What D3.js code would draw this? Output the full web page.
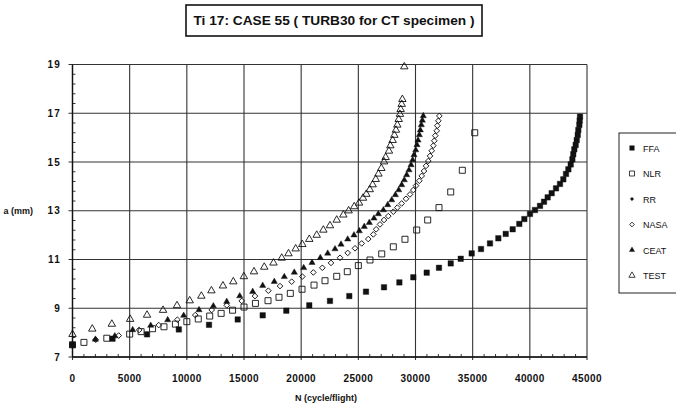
<!DOCTYPE html>
<html><head><meta charset="utf-8">
<script src="https://cdn.jsdelivr.net/npm/d3@7"></script>
<style>body{margin:0;background:#fff}svg{display:block}text{font-family:"Liberation Sans",Arial,sans-serif;fill:#111}</style>
</head><body><svg id="c" width="676" height="403"></svg>
<script>
const title = "Ti 17: CASE 55 ( TURB30 for CT specimen )";
const xTitle = "N (cycle/flight)";
const yTitle = "a (mm)";
const xTicks = [0,5000,10000,15000,20000,25000,30000,35000,40000,45000];
const yTicks = [7,9,11,13,15,17,19];
const seriesNames = ["FFA","NLR","RR","NASA","CEAT","TEST"];

const ffaN = [0,3500,6520,9300,11940,14450,16635,18700,20710,22520,24210,25670,27245,28590,29810,30980,32055,33080,33955,34915,35730,36515,37245,37890,38500,39080,39520,40015,40450,40890,41240,41560,41910,42290,42640,42930,43165,43370,43575,43720,43800,43890,44010,44100,44190,44240,44330,44360,44390];
const ffaA = [7.5,7.75,7.93,8.13,8.32,8.54,8.71,8.90,9.12,9.30,9.50,9.68,9.86,10.06,10.27,10.46,10.66,10.84,11.03,11.25,11.43,11.66,11.87,12.05,12.24,12.46,12.66,12.87,13.03,13.2,13.37,13.55,13.72,13.92,14.1,14.29,14.51,14.70,14.9,15.11,15.32,15.52,15.70,15.9,16.11,16.31,16.52,16.70,16.86];

const nlrN = [0,1000,3000,5000,6000,7000,8000,9000,10000,11000,12000,13000,14000,15000,16000,17100,18060,19050,20075,21125,22085,23110,24035,25000,26020,27045,28060,29080,30105,31065,32055,33080,34095,35180];
const nlrA = [7.5,7.6,7.77,7.94,8.04,8.16,8.24,8.35,8.45,8.56,8.68,8.79,8.92,9.05,9.2,9.31,9.45,9.61,9.78,9.95,10.13,10.31,10.5,10.75,10.98,11.23,11.52,11.83,12.21,12.62,13.13,13.77,14.66,16.2];

const rrN = [0,2000];
const rrA = [7.5,7.72];

const nasaN = [0,2030,4040,5830,7540,9170,10740,12175,13490,14800,15960,17130,18150,19170,20100,21065,21850,22610,23400,24070,24710,25295,25870,26310,26560,26895,27245,27620,28060,28410,28790,29170,29520,29810,30045,30335,30545,30745,30920,31120,31270,31415,31560,31645,31730,31855,31910,32000,32085];
const nasaA = [7.5,7.71,7.88,8.11,8.31,8.53,8.72,8.93,9.12,9.30,9.50,9.72,9.91,10.09,10.30,10.47,10.66,10.86,11.07,11.27,11.46,11.66,11.84,12.03,12.24,12.44,12.62,12.78,12.96,13.13,13.3,13.49,13.67,13.85,14.03,14.23,14.43,14.63,14.84,15.04,15.25,15.46,15.67,15.87,16.08,16.28,16.49,16.69,16.89];

const ceatN = [0,2000,3700,5265,6840,8325,9725,11065,12320,13490,14625,15760,16635,17650,18525,19400,20220,20950,21675,22320,22960,23485,24070,24620,25085,25520,25960,26370,26750,27190,27570,27920,28240,28530,28790,29020,29230,29430,29610,29755,29870,30020,30130,30220,30335,30420,30510,30600,30680];
const ceatA = [7.5,7.72,7.86,8.11,8.29,8.52,8.70,8.93,9.09,9.27,9.50,9.68,9.93,10.09,10.29,10.47,10.66,10.87,11.07,11.25,11.43,11.62,11.83,12.0,12.17,12.35,12.51,12.69,12.87,13.03,13.24,13.44,13.65,13.85,14.06,14.26,14.47,14.67,14.88,15.08,15.29,15.49,15.70,15.89,16.11,16.31,16.52,16.71,16.89];

const testN = [0,1730,3440,5040,6520,7920,9140,10250,11270,12150,13160,14065,14990,15875,16770,17580,18300,18890,19520,20100,20710,21360,21940,22520,23110,23690,24150,24640,25060,25410,25700,26000,26250,26520,26760,27010,27250,27390,27680,27800,28000,28150,28290,28410,28530,28640,28700,28790,28850,29020];
const testA = [7.93,8.15,8.35,8.55,8.72,8.92,9.11,9.31,9.50,9.72,9.92,10.09,10.30,10.50,10.69,10.86,11.06,11.24,11.44,11.62,11.83,12.0,12.21,12.39,12.62,12.83,13.0,13.17,13.32,13.52,13.68,13.87,14.07,14.29,14.51,14.74,15.01,15.19,15.45,15.67,15.89,16.1,16.31,16.52,16.75,16.96,17.16,17.37,17.57,18.91];

const svg = d3.select("#c");
const x = d3.scaleLinear().domain([0,45000]).range([72.5,587]);
const y = d3.scaleLinear().domain([7,19]).range([357,64.5]);
const gridC = "#333";

// title box
const tg = svg.append("g");
tg.append("rect").attr("x",186).attr("y",5).attr("width",296).attr("height",31)
  .attr("fill","#fff").attr("stroke","#111").attr("stroke-width",1.6);
tg.append("text").attr("x",334).attr("y",25).attr("text-anchor","middle")
  .attr("font-size",13).attr("font-weight","bold")
  .attr("textLength",281).attr("lengthAdjust","spacingAndGlyphs").text(title);

// grid
svg.append("g").selectAll("line").data(xTicks).join("line")
  .attr("x1",d=>x(d)).attr("x2",d=>x(d)).attr("y1",y(19)).attr("y2",y(7)+3)
  .attr("stroke",gridC).attr("stroke-width",1.1);
svg.append("g").selectAll("line").data(yTicks).join("line")
  .attr("x1",x(0)-4).attr("x2",x(45000)).attr("y1",d=>y(d)).attr("y2",d=>y(d))
  .attr("stroke",gridC).attr("stroke-width",1.1);

// minor ticks
const xMinor = d3.range(0,45001,1000).filter(v=>v%5000!==0);
svg.append("g").selectAll("line").data(xMinor).join("line")
  .attr("x1",d=>x(d)).attr("x2",d=>x(d)).attr("y1",y(7)).attr("y2",y(7)-3)
  .attr("stroke","#222").attr("stroke-width",0.9);
const yMinor = d3.range(7,19.001,0.4).filter(v=>Math.abs((v-7)/2-Math.round((v-7)/2))>0.01);
svg.append("g").selectAll("line").data(yMinor).join("line")
  .attr("x1",x(0)).attr("x2",x(0)+3).attr("y1",d=>y(d)).attr("y2",d=>y(d))
  .attr("stroke","#222").attr("stroke-width",0.9);

// axes lines
svg.append("line").attr("x1",x(0)).attr("x2",x(45000)).attr("y1",y(7)).attr("y2",y(7)).attr("stroke","#111").attr("stroke-width",1.4);
svg.append("line").attr("x1",x(0)).attr("x2",x(0)).attr("y1",y(19)).attr("y2",y(7)).attr("stroke","#111").attr("stroke-width",1.4);

// tick labels
svg.append("g").selectAll("text").data(xTicks).join("text")
  .attr("x",d=>x(d)).attr("y",382).attr("text-anchor","middle")
  .attr("font-size",10).attr("font-weight","bold").attr("letter-spacing",0.4).text(d=>d);
svg.append("g").selectAll("text").data(yTicks).join("text")
  .attr("x",61).attr("y",d=>y(d)+3.5).attr("text-anchor","end")
  .attr("font-size",10).attr("font-weight","bold").attr("letter-spacing",1.2).text(d=>d);
svg.append("text").attr("x",33).attr("y",y(13)+3.5).attr("text-anchor","end")
  .attr("font-size",9).attr("font-weight","bold").text(yTitle);
svg.append("text").attr("x",295).attr("y",401)
  .attr("font-size",9).attr("font-weight","bold").text(xTitle);

// series (diamonds drawn as squares rotated 45deg)
const series = [
  {name:"FFA", N:ffaN, A:ffaA, type:d3.symbolSquare, size:30, fill:"#111", rot:0},
  {name:"NLR", N:nlrN, A:nlrA, type:d3.symbolSquare, size:36, fill:"none", rot:0},
  {name:"RR", N:rrN, A:rrA, type:d3.symbolSquare, size:9, fill:"#111", rot:45},
  {name:"NASA", N:nasaN, A:nasaA, type:d3.symbolSquare, size:16, fill:"none", rot:45},
  {name:"CEAT", N:ceatN, A:ceatA, type:d3.symbolTriangle, size:17, fill:"#111", rot:0},
  {name:"TEST", N:testN, A:testA, type:d3.symbolTriangle, size:24, fill:"none", rot:0}
];
series.forEach(s=>{
  const pts = s.N.map((n,i)=>[n,s.A[i]]);
  svg.append("g").selectAll("path").data(pts).join("path")
    .attr("transform",d=>`translate(${x(d[0])},${y(d[1])}) rotate(${s.rot})`)
    .attr("d",d3.symbol().type(s.type).size(s.size))
    .attr("fill",s.fill).attr("stroke","#111").attr("stroke-width",s.fill==="none"?0.9:0.4);
});

// legend
const lg = svg.append("g");
lg.append("rect").attr("x",619).attr("y",133).attr("width",70).attr("height",160)
  .attr("fill","#fff").attr("stroke","#222").attr("stroke-width",1);
series.forEach((s,i)=>{
  const ly = 148 + i*25.5;
  lg.append("path").attr("transform",`translate(632,${ly}) rotate(${s.rot})`)
    .attr("d",d3.symbol().type(s.type).size(s.size*0.7))
    .attr("fill",s.fill).attr("stroke","#111").attr("stroke-width",s.fill==="none"?0.8:0.4);
  lg.append("text").attr("x",643).attr("y",ly+3.5).attr("font-size",9).text(s.name);
});
</script></body></html>
